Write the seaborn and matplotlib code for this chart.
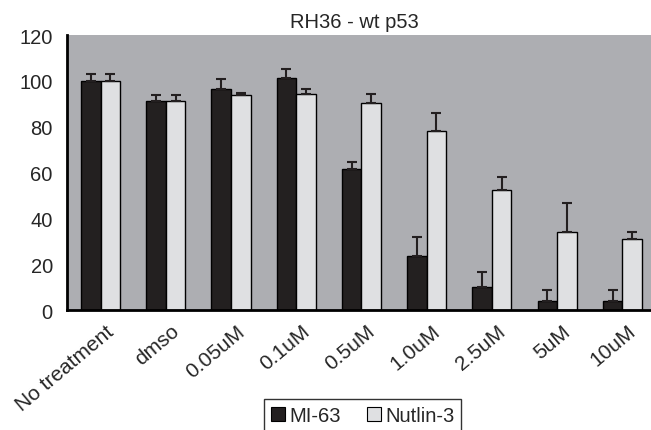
import numpy as np
import pandas as pd
import matplotlib
matplotlib.use("Agg")
import matplotlib.pyplot as plt
import matplotlib.transforms as mtransforms
import seaborn as sns

# --- data ---
categories = ["No treatment", "dmso", "0.05uM", "0.1uM", "0.5uM",
              "1.0uM", "2.5uM", "5uM", "10uM"]
mi63 = [100.1, 91.1, 96.6, 101.2, 61.4, 23.4, 10.2, 3.9, 3.9]
mi63_err = [3.1, 2.9, 4.1, 4.0, 3.1, 8.5, 6.4, 5.0, 4.7]
nutlin = [100.1, 91.1, 93.9, 94.3, 90.2, 78.3, 52.3, 33.9, 31.0]
nutlin_err = [3.1, 2.9, 0.6, 2.3, 4.0, 7.7, 5.8, 12.7, 3.2]
series = ["MI-63", "Nutlin-3"]

BG = "#adaeb2"
DARK = "#231f20"
LIGHT = "#dfe0e2"

df = pd.DataFrame({
    "cond": categories * 2,
    "value": mi63 + nutlin,
    "drug": [series[0]] * len(categories) + [series[1]] * len(categories),
})

sns.set_style("white")
plt.rcParams["font.family"] = ["Liberation Sans", "DejaVu Sans"]

fig = plt.figure(figsize=(6.51, 4.31), dpi=100)
ax = fig.add_axes([0.1024, 0.2784, 0.8976, 0.638])
ax.set_facecolor(BG)

sns.barplot(data=df, x="cond", y="value", hue="drug", order=categories,
            hue_order=series, palette=[DARK, LIGHT], width=0.6,
            edgecolor="black", linewidth=1.0, errorbar=None, ax=ax,
            legend=False)

# one-sided error bars, taken from the bar patches
n = len(categories)
bars = ax.patches
for i, bar in enumerate(bars[:2 * n]):
    err = mi63_err[i] if i < n else nutlin_err[i - n]
    xc = bar.get_x() + bar.get_width() / 2
    ax.errorbar(xc, bar.get_height(), yerr=[[0], [err]], fmt="none",
                ecolor="#231f20", elinewidth=1.5, capsize=3.6, capthick=1.5)

ax.set_ylim(0, 120)
ax.set_xlim(-0.52, 8.44)
ax.set_yticks(range(0, 121, 20))
ax.tick_params(axis="y", length=0, labelsize=14.5, pad=10)
ax.tick_params(axis="x", length=0, labelsize=15, pad=8)
ax.set_xticks(range(n))
ax.set_xticklabels(categories, rotation=40, ha="right", va="top",
                   rotation_mode="anchor")
shift = mtransforms.ScaledTranslation(0.05, 0, fig.dpi_scale_trans)
for lab in ax.get_xticklabels():
    lab.set_transform(lab.get_transform() + shift)
ax.set_xlabel("")
ax.set_ylabel("")
ax.set_title("RH36 - wt p53", fontsize=14.5, pad=5.5, x=0.493)

for s in ["top", "right"]:
    ax.spines[s].set_visible(False)
for s in ["left", "bottom"]:
    ax.spines[s].set_color("black")
    ax.spines[s].set_linewidth(2)

handles = [plt.Rectangle((0, 0), 1, 1, facecolor=c, edgecolor="black", linewidth=0.8)
           for c in [DARK, LIGHT]]
leg = fig.legend(handles, series, loc="upper center",
                 bbox_to_anchor=(362.7 / 651, 1 - 399.7 / 431), ncol=2,
                 fontsize=14.5, frameon=True, fancybox=False,
                 handlelength=0.7, handleheight=0.7, handletextpad=0.2,
                 columnspacing=1.3, borderpad=0.35, borderaxespad=0)
leg.get_frame().set_edgecolor("black")
leg.get_frame().set_linewidth(1.0)

fig.savefig("out.png", dpi=100, facecolor="white")
